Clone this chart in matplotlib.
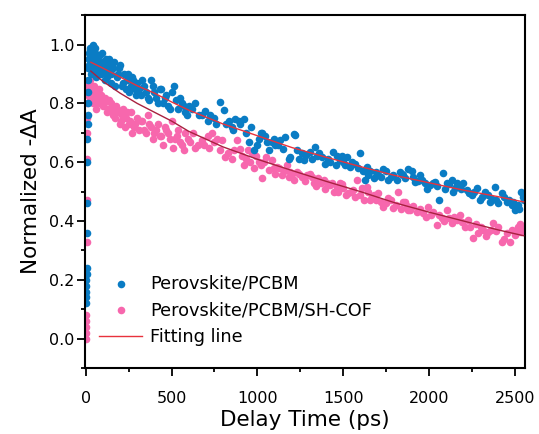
import matplotlib
matplotlib.use('Agg')
import matplotlib.pyplot as plt
from matplotlib.ticker import MultipleLocator

plt.rcParams['font.family'] = ['DejaVu Sans']

# Perovskite/PCBM (blue)
t_pcbm = [0, 1, 2, 3, 4, 5, 6, 7, 8, 9, 10, 11, 12, 13, 14, 15, 16, 17, 18,
          20, 24, 28, 32, 36, 40, 45, 50, 55, 60, 65, 70, 80, 90, 100, 110, 120,
          130, 140, 150, 165, 180, 195, 210, 225, 240, 255, 270, 285, 300, 320,
          340, 360, 380, 400, 420, 440, 460, 480, 500, 512, 525, 540, 560, 581,
          600, 639, 660, 697, 726, 760, 785, 804, 833, 852, 872, 900, 920, 949,
          978, 1008, 1027, 1046, 1066, 1085, 1104, 1130, 1162, 1182, 1192, 1211,
          1221, 1245, 1270, 1308, 1337, 1360, 1375, 1395, 1424, 1443, 1462, 1482,
          1501, 1521, 1540, 1569, 1598, 1627, 1637, 1656, 1676, 1705, 1734, 1763,
          1792, 1831, 1850, 1860, 1879, 1898, 1918, 1947, 1976, 2005, 2034, 2060,
          2080, 2102, 2131, 2150, 2175, 2199, 2218, 2247, 2276, 2296, 2325, 2354,
          2383, 2402, 2422, 2451, 2480, 2499, 2518, 2532, 2545,
          22, 26, 34, 38, 42, 48, 52, 58, 62, 68, 75, 85, 95, 105, 115, 125, 135,
          145, 158, 172, 188, 202, 218, 232, 248, 262, 278, 292, 310, 330, 350,
          370, 390, 410, 430, 450, 470, 490, 550, 570, 590,
          620, 680, 715, 745, 815, 860, 890, 935, 960, 995, 1018, 1056, 1095,
          1117, 1150, 1230, 1258, 1285, 1320, 1348, 1410, 1455, 1490, 1512, 1550,
          1585, 1615, 1645, 1690, 1720, 1750, 1780, 1815, 1840, 1908, 1935, 1960,
          1990, 2020, 2048, 2090, 2118, 2140, 2165, 2188, 2232, 2262, 2310, 2340,
          2368, 2392, 2436, 2465, 2490, 2525, 2552]
a_pcbm = [0.12, 0.14, 0.16, 0.18, 0.20, 0.22, 0.24, 0.36, 0.46, 0.60, 0.68,
          0.73, 0.76, 0.80, 0.84, 0.88, 0.92, 0.95, 0.97,
          0.95, 0.98, 0.99, 0.90, 0.96, 0.98, 1.00, 0.93, 0.97, 0.89, 0.95, 0.92,
          0.96, 0.90, 0.94, 0.88, 0.95, 0.91, 0.93, 0.87, 0.94, 0.89, 0.92, 0.86,
          0.90, 0.88, 0.84, 0.89, 0.85, 0.87, 0.83, 0.86, 0.82, 0.88, 0.84, 0.80,
          0.85, 0.82, 0.79, 0.84, 0.86, 0.81, 0.78, 0.80, 0.77, 0.79, 0.80, 0.76,
          0.775, 0.76, 0.73, 0.805, 0.776, 0.74, 0.72, 0.748, 0.73, 0.748, 0.668,
          0.64, 0.68, 0.70, 0.69, 0.64, 0.67, 0.657, 0.675, 0.685, 0.612, 0.618,
          0.697, 0.692, 0.61, 0.607, 0.635, 0.652, 0.63, 0.618, 0.595, 0.60,
          0.635, 0.62, 0.607, 0.60, 0.618, 0.584, 0.595, 0.632, 0.539, 0.584,
          0.57, 0.545, 0.556, 0.578, 0.539, 0.556, 0.567, 0.556, 0.545, 0.578,
          0.57, 0.533, 0.556, 0.528, 0.522, 0.533, 0.473, 0.562, 0.528, 0.539,
          0.511, 0.52, 0.528, 0.505, 0.488, 0.511, 0.471, 0.50, 0.466, 0.516,
          0.46, 0.494, 0.466, 0.454, 0.437, 0.454, 0.50, 0.48,
          0.93, 0.96, 0.94, 0.91, 0.97, 0.95, 0.99, 0.92, 0.96, 0.90, 0.94, 0.92,
          0.97, 0.91, 0.93, 0.89, 0.95, 0.90, 0.92, 0.86, 0.90, 0.93, 0.87, 0.85,
          0.90, 0.86, 0.88, 0.83, 0.85, 0.88, 0.84, 0.81, 0.86, 0.82, 0.85, 0.80,
          0.83, 0.78, 0.82, 0.79, 0.76,
          0.78, 0.76, 0.74, 0.75, 0.73, 0.71, 0.74, 0.70, 0.72, 0.66, 0.70, 0.67,
          0.68, 0.66, 0.645, 0.64, 0.63, 0.625, 0.61, 0.62, 0.61, 0.59, 0.62,
          0.59, 0.60, 0.58, 0.57, 0.555, 0.565, 0.55, 0.57, 0.55, 0.54, 0.56,
          0.55, 0.535, 0.54, 0.51, 0.53, 0.52, 0.51, 0.525, 0.50, 0.53, 0.51,
          0.495, 0.50, 0.48, 0.49, 0.475, 0.47, 0.48, 0.47, 0.465, 0.44, 0.47]

# Perovskite/PCBM/SH-COF (pink)
t_cof = [0, 1, 2, 3, 4, 5, 6, 7, 8, 9, 10, 11,
         14, 18, 22, 26, 30, 35, 40, 45, 50, 55, 60, 70, 80, 90, 100, 115, 130,
         145, 160, 175, 190, 205, 220, 235, 250, 265, 280, 300, 320, 340, 360,
         380, 400, 420, 440, 460, 480, 500, 520, 540, 560, 581, 610, 639, 678,
         710, 736, 765, 794, 813, 852, 881, 900, 920, 945, 968, 990, 1008, 1027,
         1050, 1085, 1104, 1125, 1143, 1170, 1192, 1201, 1230, 1260, 1290, 1308,
         1327, 1355, 1385, 1405, 1424, 1445, 1463, 1482, 1501, 1530, 1555, 1579,
         1608, 1637, 1656, 1680, 1705, 1734, 1763, 1792, 1821, 1850, 1860, 1879,
         1889, 1928, 1967, 1996, 2025, 2044, 2073, 2102, 2131, 2160, 2179, 2208,
         2228, 2257, 2286, 2315, 2344, 2373, 2402, 2422, 2451, 2470, 2499, 2518,
         2537, 2548,
         16, 20, 24, 28, 33, 38, 43, 48, 53, 58, 65, 75, 85, 95, 108, 122, 138,
         152, 168, 182, 198, 212, 228, 242, 258, 272, 290, 310, 330, 350, 370,
         390, 410, 430, 450, 470, 490, 510, 530, 550, 570,
         595, 625, 655, 690, 720, 750, 780, 830, 865, 910, 935, 958, 980, 1018,
         1040, 1068, 1095, 1115, 1155, 1182, 1215, 1245, 1275, 1318, 1340, 1370,
         1395, 1435, 1472, 1490, 1515, 1545, 1567, 1595, 1622, 1645, 1668, 1692,
         1720, 1748, 1778, 1805, 1835, 1870, 1908, 1945, 1980, 2010, 2058, 2088,
         2115, 2145, 2192, 2240, 2270, 2300, 2330, 2358, 2388, 2438, 2485, 2508,
         2528, 2552]
a_cof = [0.00, 0.02, 0.04, 0.06, 0.08, 0.33, 0.47, 0.61, 0.70, 0.75, 0.80, 0.84,
         0.86, 0.84, 0.87, 0.85, 0.83, 0.86, 0.81, 0.84, 0.86, 0.82, 0.80, 0.84,
         0.81, 0.83, 0.79, 0.82, 0.78, 0.80, 0.76, 0.79, 0.77, 0.74, 0.78, 0.75,
         0.73, 0.77, 0.72, 0.75, 0.74, 0.71, 0.76, 0.72, 0.70, 0.73, 0.69, 0.72,
         0.70, 0.74, 0.68, 0.71, 0.66, 0.70, 0.67, 0.65, 0.675, 0.69, 0.70, 0.68,
         0.675, 0.618, 0.612, 0.675, 0.646, 0.59, 0.64, 0.63, 0.62, 0.60, 0.545,
         0.618, 0.607, 0.56, 0.58, 0.555, 0.59, 0.567, 0.56, 0.565, 0.55, 0.556,
         0.56, 0.528, 0.545, 0.539, 0.53, 0.522, 0.50, 0.516, 0.53, 0.511, 0.494,
         0.505, 0.539, 0.511, 0.516, 0.471, 0.49, 0.494, 0.449, 0.477, 0.443,
         0.50, 0.466, 0.466, 0.438, 0.437, 0.432, 0.426, 0.449, 0.432, 0.387,
         0.409, 0.437, 0.392, 0.404, 0.421, 0.381, 0.404, 0.341, 0.358, 0.369,
         0.364, 0.392, 0.381, 0.33, 0.358, 0.33, 0.352, 0.381, 0.364, 0.38,
         0.83, 0.85, 0.88, 0.82, 0.84, 0.86, 0.80, 0.83, 0.85, 0.78, 0.82, 0.85,
         0.80, 0.82, 0.80, 0.77, 0.81, 0.78, 0.75, 0.78, 0.73, 0.76, 0.72, 0.77,
         0.74, 0.70, 0.73, 0.71, 0.74, 0.70, 0.73, 0.68, 0.71, 0.69, 0.66, 0.71,
         0.68, 0.65, 0.69, 0.67, 0.64,
         0.68, 0.70, 0.66, 0.66, 0.65, 0.67, 0.64, 0.63, 0.64, 0.62, 0.61, 0.60,
         0.58, 0.59, 0.60, 0.575, 0.58, 0.585, 0.57, 0.55, 0.54, 0.56, 0.535,
         0.55, 0.52, 0.53, 0.51, 0.53, 0.50, 0.525, 0.49, 0.50, 0.48, 0.49, 0.47,
         0.50, 0.48, 0.47, 0.465, 0.46, 0.47, 0.455, 0.44, 0.45, 0.45, 0.44,
         0.415, 0.42, 0.42, 0.40, 0.41, 0.415, 0.395, 0.38, 0.39, 0.38, 0.35,
         0.37, 0.365, 0.34, 0.37, 0.36, 0.39, 0.37]

# fitting lines
t_fit = [30, 100, 200, 300, 400, 500, 600, 800, 1000, 1200, 1400, 1600, 1800,
         2000, 2200, 2400, 2550]
fit_pcbm = [0.94, 0.92, 0.89, 0.86, 0.835, 0.805, 0.777, 0.73, 0.69, 0.65,
            0.617, 0.585, 0.555, 0.53, 0.505, 0.483, 0.465]
fit_cof = [0.91, 0.875, 0.835, 0.80, 0.77, 0.74, 0.705, 0.652, 0.61, 0.572,
           0.535, 0.50, 0.462, 0.43, 0.40, 0.37, 0.35]

blue = '#0a7cc4'
pink = '#f767ad'

fig = plt.figure(figsize=(5.39, 4.34), dpi=100)
ax = fig.add_axes([0.158, 0.152, 0.816, 0.813])

ax.scatter(t_cof, a_cof, s=30, color=pink, lw=0, label='Perovskite/PCBM/SH-COF', zorder=2)
ax.scatter(t_pcbm, a_pcbm, s=30, color=blue, lw=0, label='Perovskite/PCBM', zorder=2)
ax.plot(t_fit, fit_pcbm, color='#e8323c', lw=1.0, label='Fitting line', zorder=3)
ax.plot(t_fit, fit_cof, color='#a8213f', lw=1.0, zorder=3)

ax.set_xlim(-3, 2558)
ax.set_ylim(-0.1, 1.1)
ax.xaxis.set_major_locator(MultipleLocator(500))
ax.xaxis.set_minor_locator(MultipleLocator(250))
ax.yaxis.set_minor_locator(MultipleLocator(0.1))
ax.set_yticks([0.0, 0.2, 0.4, 0.6, 0.8, 1.0])
ax.set_yticklabels(['0.0', '0.2', '0.4', '0.6', '0.8', '1.0'])

ax.tick_params(which='both', direction='out', labelsize=11.5, width=1.3)
ax.tick_params(which='major', length=5.5)
ax.tick_params(which='minor', length=3)
ax.tick_params(axis='x', which='major', pad=11)
ax.tick_params(axis='y', which='major', pad=2)
for sp in ax.spines.values():
    sp.set_linewidth(1.5)

ax.set_xlabel('Delay Time (ps)', fontsize=15.5, labelpad=3)
ax.set_ylabel('Normalized -ΔA', fontsize=15.5, labelpad=6)

# legend order as in the reference
h, l = ax.get_legend_handles_labels()
order = [1, 0, 2]
ax.legend([h[i] for i in order], [l[i] for i in order],
          loc='lower left', bbox_to_anchor=(0.0, 0.022), frameon=False,
          fontsize=12.8, handlelength=2.4, handletextpad=0.45, labelspacing=0.5,
          borderpad=0.3)

fig.savefig('out.png', dpi=100)
